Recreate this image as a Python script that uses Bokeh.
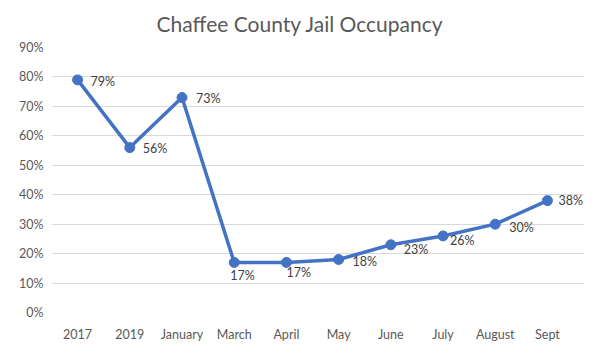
from bokeh.plotting import figure
from bokeh.models import ColumnDataSource, NumeralTickFormatter, FixedTicker, LabelSet
from bokeh.core.properties import value
from bokeh.embed import file_html
from bokeh.resources import INLINE

categories = ["2017", "2019", "January", "March", "April", "May", "June", "July", "August", "Sept"]
occupancy = [0.79, 0.56, 0.73, 0.17, 0.17, 0.18, 0.23, 0.26, 0.30, 0.38]
label_text = ["79%", "56%", "73%", "17%", "17%", "18%", "23%", "26%", "30%", "38%"]
y_ticks = [0.0, 0.1, 0.2, 0.3, 0.4, 0.5, 0.6, 0.7, 0.8, 0.9]

# label placement (pixels) relative to each point (dy: positive = downwards)
label_dx = [13, 13, 14, -4, 0, 14, 13, 7, 14, 11]
label_dy = [2, 1, 1, 13, 10, 2, 5, 5, 3, 0]

FONT = "Lato"
LINE = "#4472C4"

pos = list(range(len(categories)))
src = ColumnDataSource(dict(x=pos, val=occupancy, lab=label_text,
                            dx=label_dx, ndy=[-d for d in label_dy]))

p = figure(width=584, height=344, x_range=(-0.5, len(categories) - 0.29), y_range=(0, 0.9),
           output_backend="svg", toolbar_location=None,
           min_border_left=51, min_border_right=0,
           min_border_top=45, min_border_bottom=28)

p.title.text = "Chaffee County Jail Occupancy"
p.title.align = "left"
p.title.offset = 105
p.title.standoff = 20
p.title.vertical_align = "top"
p.title.text_line_height = 1.0
p.title.text_font = FONT
p.title.text_font_size = "21px"
p.title.text_font_style = "normal"
p.title.text_color = "#595959"

p.outline_line_color = None
p.background_fill_color = "white"
p.border_fill_color = "white"

p.xgrid.grid_line_color = None
p.ygrid.grid_line_color = "#d9d9d9"
p.ygrid.grid_line_width = 1

p.xaxis.ticker = FixedTicker(ticks=pos)
p.xaxis.major_label_overrides = {i: c for i, c in zip(pos, categories)}
p.yaxis.ticker = FixedTicker(ticks=y_ticks)
p.yaxis.formatter = NumeralTickFormatter(format="0%")
for ax in (p.xaxis[0], p.yaxis[0]):
    ax.axis_line_color = None
    ax.major_tick_line_color = None
    ax.minor_tick_line_color = None
    ax.major_tick_out = 0
    ax.major_tick_in = 0
    ax.major_label_text_font = FONT
    ax.major_label_text_font_size = "12.5px"
    ax.major_label_text_color = "#595959"
p.yaxis.major_label_standoff = 8
p.xaxis.major_label_standoff = 14

p.line("x", "val", source=src, line_color=LINE, line_width=3.5)
p.scatter("x", "val", source=src, size=10, fill_color=LINE, line_color=LINE)
labels = LabelSet(x="x", y="val", text="lab", source=src, x_offset="dx", y_offset="ndy",
                  text_font=value(FONT), text_font_size=value("12.5px"), text_color=value("#404040"),
                  text_baseline="middle", text_align="left")
p.add_layout(labels)

open("out.html", "w").write(file_html(p, INLINE))
